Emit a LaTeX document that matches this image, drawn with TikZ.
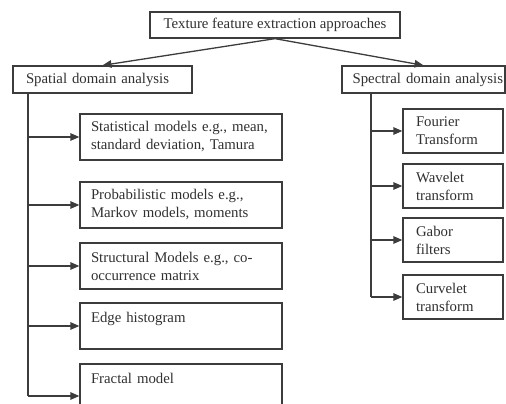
\documentclass[tikz,border=0pt]{standalone}
\usepackage{fontspec}
\setmainfont{Liberation Serif}
\usetikzlibrary{arrows.meta}
\begin{document}
\begin{tikzpicture}[x=1pt,y=-1pt,
  box/.style={draw=linec, line width=1.3pt, rectangle, inner xsep=13pt, inner ysep=0pt,
    font=\fontsize{14.8}{18}\selectfont, text=textc},
  conn/.style={draw=linec, line width=1.3pt},
  arr/.style={conn, -{Triangle[length=9pt,width=7.5pt]}}]
\definecolor{linec}{HTML}{3C3C3C}
\definecolor{textc}{HTML}{303030}
\useasboundingbox (0,0) rectangle (506,404);
\clip (0,0) rectangle (506,404);

% top and level 1
\node[box, minimum width=250pt, minimum height=26pt] (top) at (275,25) {Texture feature extraction approaches};
\node[box, minimum width=179pt, minimum height=27pt, align=left, text width=153pt] (spatial) at (102.5,79.5) {Spatial domain analysis};
\node[box, minimum width=163pt, minimum height=27pt, inner xsep=2pt, align=right, text width=159pt] (spectral) at (423.5,79.5) {Spectral domain analysis};

\draw[arr] (top.south) -- (spatial.north);
\draw[arr] (top.south) -- (spectral.north);

% spatial children
\tikzset{sbox/.style={box, inner xsep=11pt, minimum width=202pt, minimum height=46pt, text width=180pt, align=left}}
\node[sbox] (stat) at (181,137) {Statistical models e.g., mean,\\standard deviation, Tamura};
\node[sbox] (prob) at (181,205) {Probabilistic models e.g.,\\Markov models, moments};
\node[sbox] (struct) at (181,266) {Structural Models e.g., co-\\occurrence matrix};
\node[sbox] (edge) at (181,326) {Edge histogram\\\mbox{}};
\node[sbox, minimum height=64pt] (fract) at (181,396) {Fractal model\\\mbox{}\\\mbox{}};

\coordinate (st) at (28,93);
\coordinate (sb) at (28,396);
\draw[conn] (st) -- (sb);
\foreach \n in {stat,prob,struct,edge,fract}
  \draw[arr] (st |- \n.west) -- (\n.west);

% spectral children
\tikzset{pbox/.style={box, minimum width=100pt, minimum height=44pt, text width=74pt, align=left}}
\node[pbox] (four) at (453,131) {Fourier\\Transform};
\node[pbox] (wave) at (453,186) {Wavelet\\transform};
\node[pbox] (gab) at (453,240) {Gabor\\filters};
\node[pbox] (curv) at (453,297) {Curvelet\\transform};

\coordinate (pt) at (371,93);
\coordinate (pb) at (371,297);
\draw[conn] (pt) -- (pb);
\foreach \n in {four,wave,gab,curv}
  \draw[arr] (pt |- \n.west) -- (\n.west);
\end{tikzpicture}
\end{document}
